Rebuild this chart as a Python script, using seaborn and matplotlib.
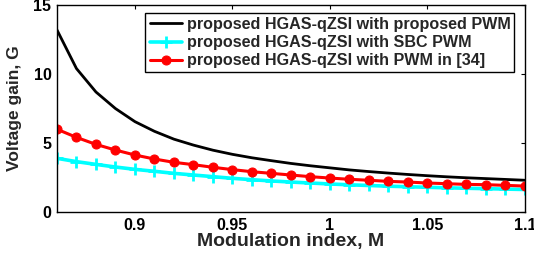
import matplotlib
matplotlib.use("Agg")
import matplotlib.pyplot as plt
import seaborn as sns
import pandas as pd

M = [0.86, 0.87, 0.88, 0.89, 0.90, 0.91, 0.92, 0.93, 0.94, 0.95, 0.96, 0.97, 0.98,
     0.99, 1.00, 1.01, 1.02, 1.03, 1.04, 1.05, 1.06, 1.07, 1.08, 1.09, 1.10]
g_proposed = [13.2, 10.4, 8.7, 7.5, 6.55, 5.85, 5.28, 4.85, 4.48, 4.18, 3.93, 3.72, 3.52,
              3.35, 3.2, 3.05, 2.93, 2.82, 2.72, 2.63, 2.55, 2.48, 2.42, 2.36, 2.3]
g_sbc = [3.89, 3.65, 3.45, 3.26, 3.09, 2.95, 2.8, 2.68, 2.56, 2.44, 2.34, 2.25, 2.17,
         2.1, 2.03, 1.97, 1.92, 1.87, 1.83, 1.79, 1.75, 1.72, 1.69, 1.66, 1.63]
g_ref34 = [6.0, 5.41, 4.9, 4.49, 4.13, 3.84, 3.6, 3.43, 3.24, 3.07, 2.92, 2.8, 2.68,
           2.56, 2.46, 2.37, 2.3, 2.22, 2.17, 2.1, 2.05, 2.0, 1.98, 1.93, 1.88]
labels = ["proposed HGAS-qZSI with proposed PWM",
          "proposed HGAS-qZSI with SBC PWM",
          "proposed HGAS-qZSI with PWM in [34]"]
x_ticks = [0.9, 0.95, 1.0, 1.05, 1.1]
x_tick_labels = ["0.9", "0.95", "1", "1.05", "1.1"]
y_ticks = [0, 5, 10, 15]

sns.set_style("white")
plt.rcParams['font.family'] = ['Liberation Sans', 'DejaVu Sans']
plt.rcParams['font.weight'] = 'bold'

df = pd.DataFrame({"M": M, "a": g_proposed, "b": g_sbc, "c": g_ref34})

fig = plt.figure(figsize=(5.34, 2.56), dpi=100)
ax = fig.add_axes([0.1067, 0.172, 0.876, 0.808])

sns.lineplot(data=df, x="M", y="a", ax=ax, color="black", linewidth=2.0, label=labels[0])
sns.lineplot(data=df, x="M", y="b", ax=ax, color="cyan", linewidth=2.6, marker="+",
             markersize=8, markeredgewidth=2.0, markeredgecolor="cyan", label=labels[1])
sns.lineplot(data=df, x="M", y="c", ax=ax, color="red", linewidth=2.2, marker="o",
             markersize=6.5, markeredgecolor="red", label=labels[2])

ax.set_xlim(0.86, 1.1)
ax.set_ylim(0, 15)
ax.set_xticks(x_ticks)
ax.set_xticklabels(x_tick_labels)
ax.set_yticks(y_ticks)
ax.tick_params(direction="in", top=True, right=True, length=3, width=0.8,
               labelsize=11.5, pad=4, colors="black")
for lbl in ax.get_xticklabels() + ax.get_yticklabels():
    lbl.set_fontweight("bold")
for s in ax.spines.values():
    s.set_color("black")
    s.set_linewidth(1.0)
ax.set_xlabel("Modulation index, M", fontsize=14, fontweight="bold", labelpad=0)
ax.set_ylabel("Voltage gain, G", fontsize=12.5, fontweight="bold", labelpad=8)

leg = ax.legend(loc="upper right", bbox_to_anchor=(0.978, 0.962), fontsize=11.6,
                frameon=True, fancybox=False, framealpha=1, edgecolor="black",
                handlelength=2.0, borderpad=0.25, labelspacing=0.2, handletextpad=0.3,
                borderaxespad=0)
leg.get_frame().set_linewidth(1.0)
for t in leg.get_texts():
    t.set_fontweight("bold")

fig.savefig("out.png", dpi=100)
